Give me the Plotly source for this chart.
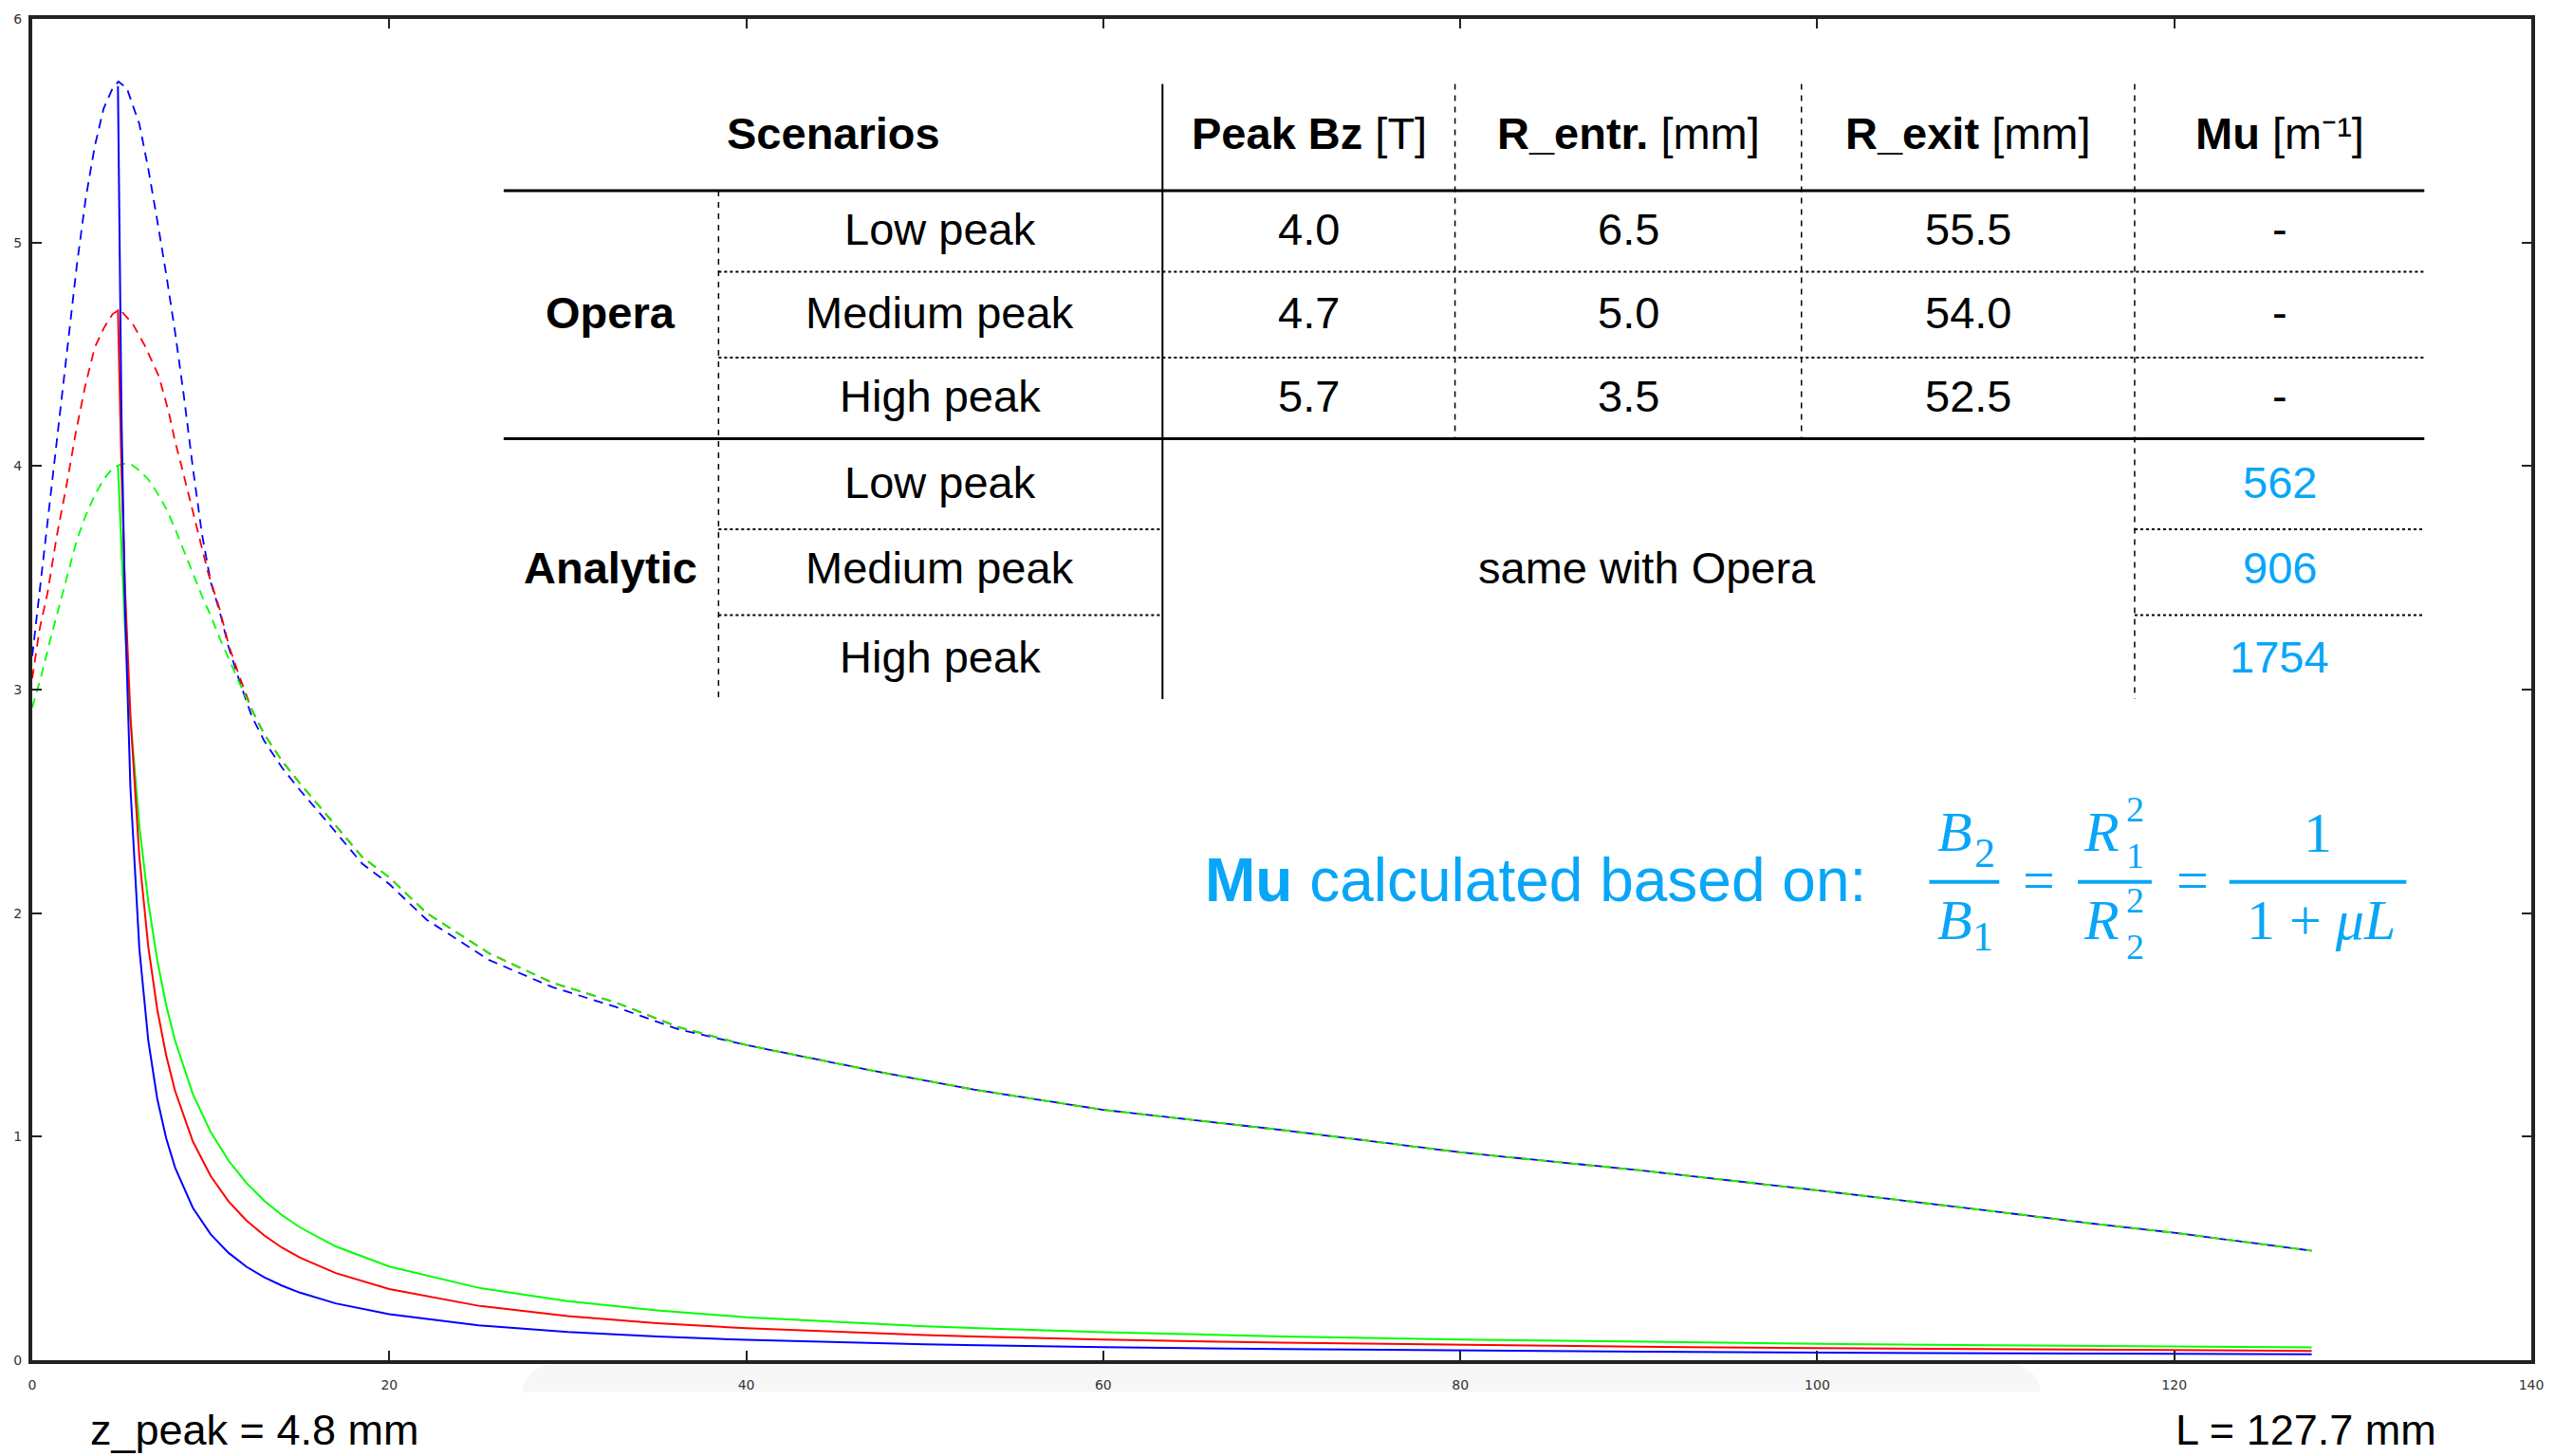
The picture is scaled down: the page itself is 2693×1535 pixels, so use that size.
import plotly.graph_objects as go

# ---------------- data ----------------
z_peak_mm = 4.8
L_mm = 127.7

# Analytic curves (solid): z [mm] and Bz [T]
z_analytic = [4.8, 5.0, 5.2, 5.5, 6.0, 6.5, 7.0, 7.5, 8, 9, 10, 11, 12, 13, 14, 15, 17, 20,
              25, 30, 35, 40, 50, 60, 70, 80, 90, 100, 110, 120, 127.7]
bz_analytic_low = [4.00, 3.60, 3.27, 2.87, 2.39, 2.05, 1.79, 1.589, 1.43, 1.19, 1.02, 0.892,
                   0.793, 0.713, 0.648, 0.594, 0.509, 0.419, 0.324, 0.264, 0.2226, 0.1925,
                   0.1515, 0.125, 0.1063, 0.0925, 0.0818, 0.0734, 0.0665, 0.0608, 0.0571]
bz_analytic_med = [4.70, 3.98, 3.45, 2.88, 2.25, 1.85, 1.57, 1.364, 1.205, 0.978, 0.823, 0.710,
                   0.625, 0.558, 0.503, 0.459, 0.390, 0.318, 0.2435, 0.197, 0.166, 0.143,
                   0.112, 0.0921, 0.0782, 0.0680, 0.0601, 0.0539, 0.0488, 0.0446, 0.0419]
bz_analytic_high = [5.70, 4.22, 3.35, 2.56, 1.84, 1.43, 1.17, 0.994, 0.862, 0.681, 0.563, 0.480,
                    0.418, 0.371, 0.333, 0.302, 0.254, 0.206, 0.156, 0.126, 0.106, 0.0908,
                    0.0710, 0.0583, 0.0494, 0.0429, 0.0379, 0.0339, 0.0307, 0.0281, 0.0263]

# Opera curves (dashed): shared tail after the curves merge
z_opera_tail = [14.0, 15.0, 16.5, 18.5, 20.0, 22.1, 25.6, 29.1, 32.7, 36.2, 40, 47.4, 52.8,
                60, 70, 80, 90, 100, 110, 115, 120, 124, 127.7]
bz_opera_tail = [2.68, 2.58, 2.44, 2.25, 2.16, 2.00, 1.82, 1.69, 1.60, 1.49, 1.41, 1.29, 1.21,
                 1.12, 1.03, 0.93, 0.85, 0.76, 0.665, 0.615, 0.57, 0.53, 0.49]

z_opera_low_head = [0, 0.5, 1.0, 1.5, 2.0, 2.5, 3.0, 3.5, 4.0, 4.5, 5.0, 5.5, 6.0, 6.5, 7.0,
                    7.5, 8.0, 8.5, 9.0, 9.5, 10.0, 10.5, 11.0, 11.6, 12.3, 13.0]
bz_opera_low_head = [2.92, 3.06, 3.22, 3.37, 3.53, 3.67, 3.78, 3.87, 3.94, 3.99, 4.01, 4.01,
                     3.98, 3.94, 3.88, 3.81, 3.72, 3.62, 3.52, 3.42, 3.33, 3.23, 3.14, 3.03,
                     2.91, 2.80]

z_opera_med_head = [0, 0.41, 0.85, 1.38, 1.91, 2.44, 2.97, 3.5, 4.03, 4.5, 4.9, 5.6, 6.3, 7.1,
                    7.65, 8.0, 8.36, 8.7, 9.07, 9.42, 9.86, 10.5, 11.0, 11.6, 12.3, 13.0]
bz_opera_med_head = [3.05, 3.27, 3.43, 3.69, 3.91, 4.15, 4.36, 4.53, 4.62, 4.68, 4.70, 4.64,
                     4.54, 4.40, 4.24, 4.11, 4.00, 3.89, 3.77, 3.66, 3.52, 3.36, 3.20, 3.06,
                     2.91, 2.80]

z_opera_high = [0, 0.5, 1.0, 1.5, 2.0, 2.5, 3.0, 3.5, 4.0, 4.5, 4.83, 5.3, 6.0, 6.5, 7.0, 7.5,
                8.0, 8.5, 9.0, 9.5, 10.0, 10.5, 11.0, 11.6, 12.3, 13.0, 14.0, 15.0, 16.5, 18.5,
                20.0, 22.1, 25.6, 29.1, 32.7, 36.2, 40, 47.4, 52.8, 60, 70, 80, 90, 100, 110,
                115, 120, 124, 127.7]
bz_opera_high = [3.15, 3.50, 3.85, 4.20, 4.55, 4.90, 5.20, 5.43, 5.60, 5.69, 5.72, 5.69, 5.53,
                 5.33, 5.10, 4.86, 4.60, 4.31, 3.99, 3.70, 3.48, 3.35, 3.19, 3.04, 2.88, 2.77,
                 2.65, 2.55, 2.41, 2.22, 2.13, 1.97, 1.79, 1.67, 1.58, 1.48, 1.41, 1.29, 1.21,
                 1.12, 1.03, 0.93, 0.85, 0.76, 0.665, 0.615, 0.57, 0.53, 0.49]

x_ticks = [0, 20, 40, 60, 80, 100, 120, 140]
y_ticks = [0, 1, 2, 3, 4, 5, 6]

# Table content
table_headers = ["Scenarios", "Peak Bz", "R_entr.", "R_exit", "Mu"]
table_units = ["", "[T]", "[mm]", "[mm]", "[m⁻¹]"]
scenario_groups = ["Opera", "Analytic"]
scenario_names = ["Low peak", "Medium peak", "High peak"]
peak_bz = ["4.0", "4.7", "5.7"]
r_entr = ["6.5", "5.0", "3.5"]
r_exit = ["55.5", "54.0", "52.5"]
mu_opera = ["-", "-", "-"]
mu_analytic = ["562", "906", "1754"]
analytic_note = "same with Opera"

# ---------------- layout geometry ----------------
W, H = 2693, 1535
ML, MR, MT, MB = 34, 19, 12, 101
PW = W - ML - MR
PH = H - MT - MB
BLUE_TXT = "#08a6f8"


def px(x):
    return (x - ML) / PW


def py(y):
    return (H - MB - y) / PH


fig = go.Figure()

colors = {"low": "#00ff00", "med": "#ff0000", "high": "#0000ff"}
DASH = "10px,7px"

# Opera (dashed)
fig.add_trace(go.Scatter(x=z_opera_high, y=bz_opera_high, mode="lines",
                         line=dict(color=colors["high"], width=1.8, dash=DASH),
                         hoverinfo="skip", showlegend=False))
fig.add_trace(go.Scatter(x=z_opera_med_head + z_opera_tail, y=bz_opera_med_head + bz_opera_tail,
                         mode="lines", line=dict(color=colors["med"], width=1.8, dash=DASH),
                         hoverinfo="skip", showlegend=False))
fig.add_trace(go.Scatter(x=z_opera_low_head + z_opera_tail, y=bz_opera_low_head + bz_opera_tail,
                         mode="lines", line=dict(color=colors["low"], width=1.8, dash=DASH),
                         hoverinfo="skip", showlegend=False))
# Analytic (solid)
fig.add_trace(go.Scatter(x=z_analytic, y=bz_analytic_low, mode="lines",
                         line=dict(color=colors["low"], width=2),
                         hoverinfo="skip", showlegend=False))
fig.add_trace(go.Scatter(x=z_analytic, y=bz_analytic_med, mode="lines",
                         line=dict(color=colors["med"], width=2),
                         hoverinfo="skip", showlegend=False))
fig.add_trace(go.Scatter(x=z_analytic, y=bz_analytic_high, mode="lines",
                         line=dict(color=colors["high"], width=2),
                         hoverinfo="skip", showlegend=False))

annotations = []
shapes = []


def ann(x, y, text, size, color="black", family="Liberation Sans", xanchor="center"):
    annotations.append(dict(x=px(x), y=py(y), xref="paper", yref="paper", text=text,
                            showarrow=False, xanchor=xanchor, yanchor="middle",
                            font=dict(size=size, color=color, family=family)))


def hline(x0, x1, y, width, dash="solid", color="black"):
    shapes.append(dict(type="line", xref="paper", yref="paper", x0=px(x0), x1=px(x1),
                       y0=py(y), y1=py(y), line=dict(color=color, width=width, dash=dash)))


def vline(x, y0, y1, width, dash="solid", color="black"):
    shapes.append(dict(type="line", xref="paper", yref="paper", x0=px(x), x1=px(x),
                       y0=py(y0), y1=py(y1), line=dict(color=color, width=width, dash=dash)))


# ---------------- table ----------------
TS = 47
col_x = [880, 1383, 1720, 2079, 2408]
group_x = 645
name_x = 993
header_y = 133
opera_rows = [235, 323, 412]
analytic_rows = [503, 594, 688]

for i, h in enumerate(table_headers):
    txt = "<b>%s</b>" % h + ((" " + table_units[i]) if table_units[i] else "")
    ann(col_x[i], header_y, txt, TS)

ann(group_x, opera_rows[1], "<b>%s</b>" % scenario_groups[0], TS)
ann(group_x, analytic_rows[1], "<b>%s</b>" % scenario_groups[1], TS)
for i in range(3):
    ann(name_x, opera_rows[i], scenario_names[i], TS)
    ann(col_x[1], opera_rows[i], peak_bz[i], TS)
    ann(col_x[2], opera_rows[i], r_entr[i], TS)
    ann(col_x[3], opera_rows[i], r_exit[i], TS)
    ann(col_x[4], opera_rows[i], mu_opera[i], TS)
    ann(name_x, analytic_rows[i], scenario_names[i], TS)
    ann(col_x[4], analytic_rows[i], mu_analytic[i], TS, color=BLUE_TXT)
ann(1740, analytic_rows[1], analytic_note, TS)

hline(532, 2561, 194, 3)
hline(532, 2561, 457, 3)
for yy in (280, 371):
    hline(759, 2561, yy, 2, dash="dot")
for yy in (553, 644):
    hline(759, 1228, yy, 2, dash="dot")
    hline(2255, 2561, yy, 2, dash="dot")
vline(759, 194, 733, 1.5, dash="6px,6px")
vline(1228, 81, 733, 2)
vline(1537, 81, 457, 1.5, dash="6px,6px")
vline(1903, 81, 457, 1.5, dash="6px,6px")
vline(2255, 81, 733, 1.5, dash="6px,6px")

# ---------------- formula ----------------
ann(1271, 925, "<b>Mu</b> calculated based on:", 64, color=BLUE_TXT, xanchor="left")
SER = "Liberation Serif"
FS = 60
SS = 44
SS2 = 38
# B2 / B1
ann(2065, 874, "<i>B</i>", FS, BLUE_TXT, SER)
ann(2097, 896, "2", SS, BLUE_TXT, SER)
ann(2065, 967, "<i>B</i>", FS, BLUE_TXT, SER)
ann(2095, 985, "1", SS, BLUE_TXT, SER)
hline(2038, 2112, 927, 4, color=BLUE_TXT)
ann(2154, 925, "=", FS, BLUE_TXT, SER)
# R1^2 / R2^2 (stacked scripts)
ann(2220, 874, "<i>R</i>", FS, BLUE_TXT, SER)
ann(2256, 874, "2<br>1", SS2, BLUE_TXT, SER)
ann(2220, 967, "<i>R</i>", FS, BLUE_TXT, SER)
ann(2256, 971, "2<br>2", SS2, BLUE_TXT, SER)
hline(2195, 2273, 927, 4, color=BLUE_TXT)
ann(2316, 925, "=", FS, BLUE_TXT, SER)
# 1 / (1 + mu L)
ann(2448, 875, "1", FS, BLUE_TXT, SER)
hline(2355, 2542, 927, 4, color=BLUE_TXT)
ann(2452, 967, "1 + <i>μL</i>", FS, BLUE_TXT, SER)

# ---------------- bottom labels ----------------
ann(269, 1508, "z_peak = %.1f mm" % z_peak_mm, 45)
ann(2436, 1508, "L = %.1f mm" % L_mm, 45)

# faint band under the x axis
x0, x1, yt, yb, r = 551, 2157, 1438, 1468, 40
path = ("M %f,%f L %f,%f Q %f,%f %f,%f L %f,%f Q %f,%f %f,%f L %f,%f Z" % (
    px(x0), py(yb), px(x0), py(yt + r), px(x0), py(yt), px(x0 + r), py(yt),
    px(x1 - r), py(yt), px(x1), py(yt), px(x1), py(yt + r), px(x1), py(yb)))
shapes.append(dict(type="path", xref="paper", yref="paper", path=path,
                   fillcolor="#f7f7f7", line=dict(width=0), layer="below"))

axis_common = dict(showline=True, linewidth=4, linecolor="#222222", mirror="allticks",
                   ticks="inside", ticklen=10, tickwidth=2, tickcolor="#222222",
                   showgrid=False, zeroline=False,
                   tickfont=dict(size=14, color="#333333", family="DejaVu Sans"))

fig.update_layout(
    width=W, height=H,
    margin=dict(l=ML, r=MR, t=MT, b=MB),
    paper_bgcolor="white", plot_bgcolor="white",
    xaxis=dict(range=[0, 140], tickvals=x_ticks, ticklabelstandoff=10, **axis_common),
    yaxis=dict(range=[0, 6], tickvals=y_ticks, ticklabelstandoff=4, **axis_common),
    annotations=annotations, shapes=shapes,
    showlegend=False,
)

fig.write_html("out.html")
